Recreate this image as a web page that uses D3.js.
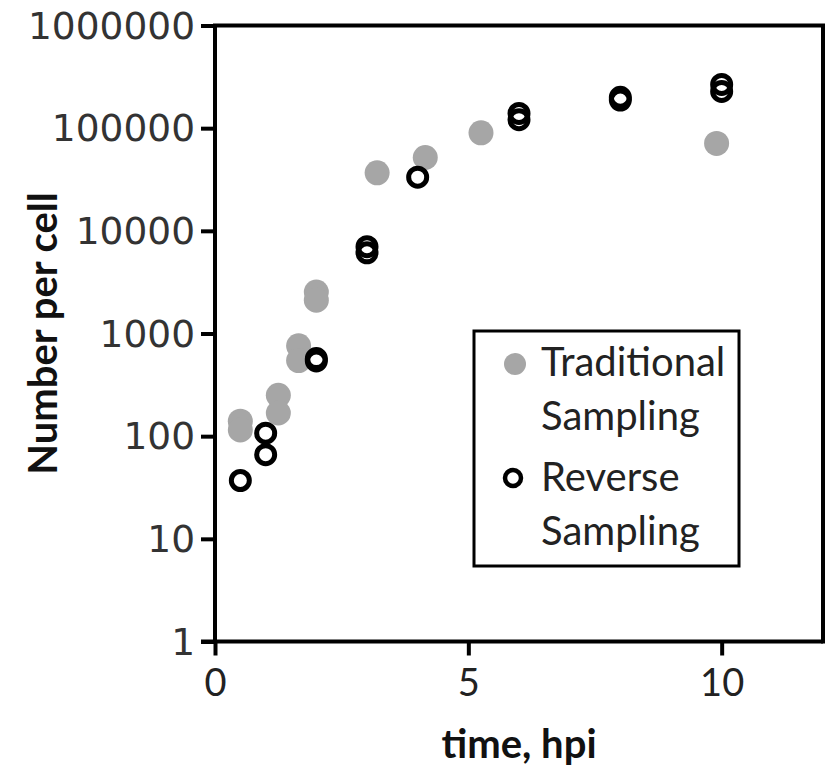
<!DOCTYPE html>
<html>
<head>
<meta charset="utf-8">
<script src="https://cdn.jsdelivr.net/npm/d3@7"></script>
<style>
  html, body { margin: 0; padding: 0; background: #fff; }
  svg { display: block; }
</style>
</head>
<body>
<svg id="chart" width="827" height="771"></svg>
<script>
// Traditional sampling: time (hpi) and number per cell
const tradTime  = [0.5, 0.5, 1.25, 1.25, 1.65, 1.65, 2, 2, 3.2, 4.15, 5.25, 9.9];
const tradCount = [140, 115, 250, 168, 760, 545, 2530, 2110, 36700, 51800, 90000, 71000];

// Reverse sampling: time (hpi) and number per cell
const revTime  = [0.5, 1, 1, 2, 2, 3, 3, 4, 6, 6, 8, 8, 10, 10];
const revCount = [37, 107, 66, 570, 540, 7000, 6100, 33300, 139000, 121000, 200000, 188000, 267000, 228000];

// Axis ticks
const xTicks = [0, 5, 10];
const yTicks = [1, 10, 100, 1000, 10000, 100000, 1000000];

const legendLabels = [["Traditional", "Sampling"], ["Reverse", "Sampling"]];

const svg = d3.select("#chart");
const plot = { left: 215, right: 823, top: 25.5, bottom: 641.5 };

const x = d3.scaleLinear().domain([0, 12]).range([plot.left, plot.right]);
const y = d3.scaleLog().domain([1, 1000000]).range([plot.bottom, plot.top]);

const lineW = 4;
const grey = "#a6a6a6";

// Plot frame (top and right edges)
svg.append("path")
  .attr("d", `M${plot.left},${plot.top}H${plot.right}V${plot.bottom}`)
  .attr("fill", "none").attr("stroke", "#000").attr("stroke-width", lineW)
  .attr("stroke-linecap", "square");

// Y axis
const yAxis = d3.axisLeft(y).tickValues(yTicks).tickSize(14).tickPadding(6)
  .tickFormat(d3.format("d"));
const gy = svg.append("g").attr("transform", `translate(${plot.left},0)`).call(yAxis);
gy.select(".domain").attr("stroke-width", lineW).attr("d", `M0,${plot.top}V${plot.bottom}`);
gy.selectAll(".tick line").attr("stroke-width", lineW);
gy.selectAll(".tick text")
  .attr("font-family", "DejaVu Sans").attr("font-size", 37.5).attr("fill", "#333")
  .attr("dy", "0.34em");

// X axis
const xAxis = d3.axisBottom(x).tickValues(xTicks).tickSize(14).tickPadding(14);
const gx = svg.append("g").attr("transform", `translate(0,${plot.bottom})`).call(xAxis);
gx.select(".domain").attr("stroke-width", lineW).attr("d", `M${plot.left - 14},0H${plot.right}`);
gx.selectAll(".tick line").attr("stroke-width", lineW);
gx.selectAll(".tick text")
  .attr("font-family", "Lato").attr("font-size", 38).attr("fill", "#222");

// Axis titles
svg.append("text")
  .attr("transform", `translate(57,${(plot.top + plot.bottom) / 2}) rotate(-90)`)
  .attr("text-anchor", "middle")
  .attr("font-family", "Lato").attr("font-weight", "bold").attr("font-size", 40)
  .attr("fill", "#111")
  .text("Number per cell");

svg.append("text")
  .attr("x", (plot.left + plot.right) / 2).attr("y", 758)
  .attr("text-anchor", "middle")
  .attr("font-family", "Lato").attr("font-weight", "bold").attr("font-size", 40)
  .attr("fill", "#111")
  .text("time, hpi");

// Data points: traditional (filled grey), reverse (open black) drawn on top
const trad = tradTime.map((t, i) => ({ t, v: tradCount[i] }));
const rev = revTime.map((t, i) => ({ t, v: revCount[i] }));

svg.append("g").selectAll("circle").data(trad).join("circle")
  .attr("cx", d => x(d.t)).attr("cy", d => y(d.v))
  .attr("r", 12.5).attr("fill", grey);

svg.append("g").selectAll("circle").data(rev).join("circle")
  .attr("cx", d => x(d.t)).attr("cy", d => y(d.v))
  .attr("r", 9).attr("fill", "none")
  .attr("stroke", "#000").attr("stroke-width", 5);

// Legend
const lg = svg.append("g");
lg.append("rect")
  .attr("x", 474).attr("y", 331).attr("width", 265).attr("height", 235)
  .attr("fill", "#fff").attr("stroke", "#000").attr("stroke-width", 3);

lg.append("circle").attr("cx", 515).attr("cy", 364).attr("r", 11).attr("fill", grey);
lg.append("circle").attr("cx", 513).attr("cy", 478).attr("r", 8)
  .attr("fill", "none").attr("stroke", "#000").attr("stroke-width", 4.5);

const lineY = [[376, 430], [491, 545]];
legendLabels.forEach((lines, i) => {
  lines.forEach((s, j) => {
    lg.append("text")
      .attr("x", 541).attr("y", lineY[i][j])
      .attr("font-family", "Lato").attr("font-size", 40).attr("fill", "#222")
      .text(s);
  });
});
</script>
</body>
</html>
